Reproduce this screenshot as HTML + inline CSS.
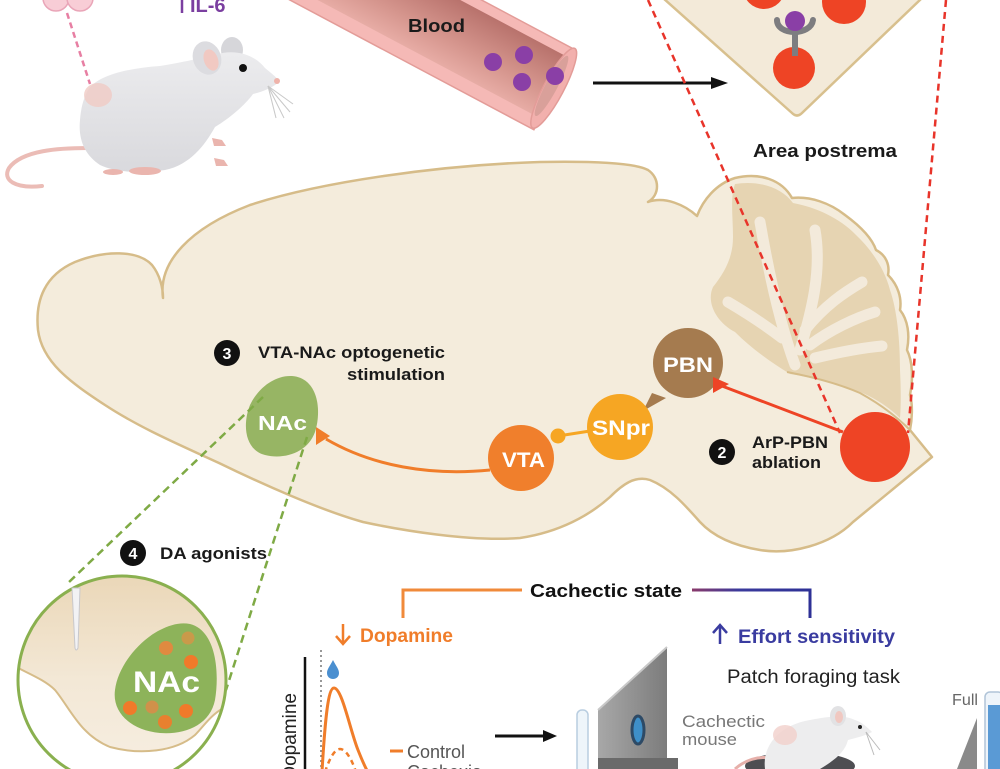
<!DOCTYPE html>
<html>
<head>
<meta charset="utf-8">
<style>
  html,body{margin:0;padding:0;background:#fff;}
  svg{display:block;}
  text{font-family:"Liberation Sans",Arial,sans-serif;}
</style>
</head>
<body>
<svg width="1000" height="769" viewBox="0 0 1000 769" xmlns="http://www.w3.org/2000/svg">
  <defs>
    <linearGradient id="lumen" x1="0" y1="0" x2="0" y2="1">
      <stop offset="0" stop-color="#b8726c"/>
      <stop offset="0.6" stop-color="#d5958d"/>
      <stop offset="1" stop-color="#e7aca5"/>
    </linearGradient>
    <linearGradient id="mbody" x1="0" y1="0" x2="0" y2="1">
      <stop offset="0" stop-color="#ececee"/>
      <stop offset="1" stop-color="#d9d9dd"/>
    </linearGradient>
    <linearGradient id="circ" x1="0" y1="0" x2="0" y2="1">
      <stop offset="0" stop-color="#ead6b6"/>
      <stop offset="0.5" stop-color="#f3e8d6"/>
      <stop offset="1" stop-color="#f7efe3"/>
    </linearGradient>
    <linearGradient id="blueline" x1="0" y1="0" x2="1" y2="0">
      <stop offset="0" stop-color="#8a3a6a"/>
      <stop offset="0.4" stop-color="#3a3a9c"/>
      <stop offset="1" stop-color="#2e3196"/>
    </linearGradient>
    <linearGradient id="panel" x1="0" y1="0" x2="1" y2="0">
      <stop offset="0" stop-color="#a8a8a8"/>
      <stop offset="1" stop-color="#7c7c7c"/>
    </linearGradient>
    <clipPath id="cc"><circle cx="122" cy="680" r="104"/></clipPath>
  </defs>

  <!-- ===== TOP LEFT: fat tissue + mouse ===== -->
  <circle cx="56" cy="-2" r="13" fill="#f8cdd6" stroke="#e9a5b8" stroke-width="1.5"/>
  <circle cx="80" cy="-2" r="13" fill="#f8cdd6" stroke="#e9a5b8" stroke-width="1.5"/>
  <line x1="67" y1="13" x2="90" y2="84" stroke="#e77fa3" stroke-width="2.5" stroke-dasharray="6 4"/>
  <line x1="182" y1="0" x2="182" y2="13" stroke="#7b3fa0" stroke-width="2.5"/>
  <text x="190" y="12" font-size="20" font-weight="bold" fill="#7b3fa0">IL-6</text>

  <!-- tail -->
  <path d="M88,148 C60,148 22,150 9,168 C2,180 15,189 42,186" fill="none" stroke="#ebbcb6" stroke-width="4" stroke-linecap="round"/>
  <!-- back ear -->
  <ellipse cx="232" cy="50" rx="11" ry="13" fill="#d6d6da"/>
  <!-- body -->
  <path d="M87,92 C95,75 130,68 160,66 C185,62 200,58 215,55 C235,48 255,55 265,68 C272,74 278,78 279,82 C272,88 262,92 253,94 C245,105 230,118 215,127 C205,145 190,165 165,170 C140,174 115,172 100,165 C85,155 78,140 80,120 C81,108 83,100 87,92 Z" fill="url(#mbody)"/>
  <ellipse cx="98" cy="95" rx="14" ry="12" fill="#f0cbc4" opacity="0.8"/>
  <!-- front ear -->
  <ellipse cx="207" cy="58" rx="14" ry="17" transform="rotate(-20 207 58)" fill="#dcdce0"/>
  <ellipse cx="211" cy="60" rx="7" ry="11" transform="rotate(-20 211 60)" fill="#f1c9c2"/>
  <circle cx="243" cy="68" r="4" fill="#111"/>
  <circle cx="277" cy="81" r="3" fill="#efb3aa"/>
  <g stroke="#c8c8c8" stroke-width="1">
    <line x1="268" y1="86" x2="293" y2="104"/>
    <line x1="268" y1="86" x2="290" y2="112"/>
    <line x1="268" y1="86" x2="284" y2="118"/>
    <line x1="268" y1="86" x2="276" y2="118"/>
  </g>
  <g fill="#eab5ae">
    <path d="M212,138 L222,140 L226,146 L214,146 Z"/>
    <path d="M214,158 L224,160 L228,166 L216,166 Z"/>
    <ellipse cx="145" cy="171" rx="16" ry="4"/>
    <ellipse cx="113" cy="172" rx="10" ry="3"/>
  </g>

  <!-- ===== Blood vessel ===== -->
  <g transform="translate(555,90) rotate(28)">
    <rect x="-340" y="-45" width="340" height="90" fill="#f5b9b6" stroke="#e39c98" stroke-width="1.5"/>
    <rect x="-340" y="-35" width="335" height="67" fill="url(#lumen)"/>
    <ellipse cx="-2" cy="-1" rx="10" ry="45" fill="#f2b0ad" stroke="#e39c98" stroke-width="1.5"/>
    <ellipse cx="-5" cy="-2" rx="6" ry="34" fill="#d9a09a"/>
  </g>
  <text x="408" y="32" font-size="18" font-weight="bold" fill="#1a1a1a" textLength="57" lengthAdjust="spacingAndGlyphs">Blood</text>
  <g fill="#8a3fa6">
    <circle cx="493" cy="62" r="9"/>
    <circle cx="524" cy="55" r="9"/>
    <circle cx="522" cy="82" r="9"/>
    <circle cx="555" cy="76" r="9"/>
  </g>
  <!-- arrow -->
  <line x1="593" y1="83" x2="716" y2="83" stroke="#111" stroke-width="3"/>
  <polygon points="728,83 711,77 711,89" fill="#111"/>

  <!-- ===== Area postrema diamond ===== -->
  <path d="M663,-2 L792,113 Q797,118 802,113 L922,-2 Z" fill="#f3ead9" stroke="#d8c08e" stroke-width="2.5"/>
  <circle cx="764" cy="-12" r="21" fill="#ee4425"/>
  <circle cx="844" cy="2" r="22" fill="#ee4425"/>
  <circle cx="794" cy="68" r="21" fill="#ee4425"/>
  <path d="M777,20 C777,36 811,36 813,20" fill="none" stroke="#7d7d80" stroke-width="6" stroke-linecap="round"/>
  <line x1="795" y1="32" x2="795" y2="56" stroke="#7d7d80" stroke-width="6"/>
  <circle cx="795" cy="21" r="10" fill="#8a3fa6"/>
  <text x="753" y="157" font-size="18" font-weight="bold" fill="#1a1a1a" textLength="144" lengthAdjust="spacingAndGlyphs">Area postrema</text>

  <!-- ===== Brain ===== -->
  <path d="M163,298 C158,262 190,228 250,205 C320,182 440,165 540,162 C595,161 635,163 648,170 C660,178 660,195 648,202 C665,196 685,205 697,216 C703,200 716,184 735,178 C760,172 782,180 792,198 C810,196 830,203 845,215 C860,226 872,238 876,250 C886,255 890,265 888,275 C898,285 902,298 900,310 C908,320 910,335 907,350 C913,362 913,380 910,395 C913,405 912,420 910,430 L932,457 L853,522 C830,545 790,555 760,550 C730,545 712,535 700,522 C685,505 670,488 650,480 C635,475 622,485 610,497 C590,515 560,532 520,538 C470,542 400,530 363,522 C320,510 260,483 219,463 C180,445 140,428 105,405 C70,382 42,362 38,330 C35,300 45,275 75,262 C105,250 138,250 152,265 C160,275 163,288 163,298 Z" fill="#f4ecdc" stroke="#d6bc89" stroke-width="2.5" stroke-linejoin="round"/>

  <!-- cerebellum folia -->
  <path d="M735,184 C760,180 782,188 793,203 C815,207 840,218 856,235 C872,250 885,270 890,290 C897,310 900,340 900,370 C901,390 901,405 900,418 C890,408 875,398 860,392 C840,384 815,378 790,374 C770,362 750,347 735,332 C716,322 706,302 713,287 C725,272 733,257 733,237 C733,217 730,198 735,184 Z" fill="#e6d4b2"/>
  <g stroke="#f3eadb" stroke-width="11" stroke-linecap="round" fill="none">
    <path d="M795,365 C782,330 770,280 760,222"/>
    <path d="M782,338 C765,325 745,312 728,302"/>
    <path d="M800,350 C812,310 822,270 815,230"/>
    <path d="M805,330 C825,305 845,292 862,282"/>
    <path d="M810,345 C830,330 855,318 875,312"/>
    <path d="M815,358 C840,352 860,348 882,346"/>
  </g>
  <path d="M787,372 C813,377 837,383 860,393 C880,404 898,418 910,430" fill="none" stroke="#d6bc89" stroke-width="2"/>

  <!-- red dashed lines -->
  <g stroke="#e8342a" stroke-width="2.5" stroke-dasharray="7 5" fill="none">
    <line x1="648" y1="0" x2="840" y2="433"/>
    <line x1="946" y1="0" x2="908" y2="433"/>
  </g>

  <!-- circuit -->
  <path d="M490,470 C430,476 372,466 326,439" fill="none" stroke="#f07d2a" stroke-width="3"/>
  <polygon points="316,427 330,436 316,445" fill="#f07d2a"/>
  <path d="M292,376 C318,378 322,410 315,432 C308,452 285,460 265,455 C245,450 242,425 250,405 C258,388 275,375 292,376 Z" fill="#97b564"/>
  <text x="258" y="430" font-size="20" font-weight="bold" fill="#fff" textLength="49" lengthAdjust="spacingAndGlyphs">NAc</text>

  <circle cx="521" cy="458" r="33" fill="#f07f2c"/>
  <text x="502" y="467" font-size="21" font-weight="bold" fill="#fff" textLength="43" lengthAdjust="spacingAndGlyphs">VTA</text>

  <line x1="558" y1="436" x2="590" y2="431" stroke="#f6a623" stroke-width="3"/>
  <circle cx="558" cy="436" r="7.5" fill="#f6a623"/>

  <circle cx="688" cy="363" r="35" fill="#a57b4f"/>
  <polygon points="643,411 652,393 666,398" fill="#a57b4f"/>
  <circle cx="620" cy="427" r="33" fill="#f6a623"/>
  <text x="592" y="435" font-size="21" font-weight="bold" fill="#fff" textLength="58" lengthAdjust="spacingAndGlyphs">SNpr</text>
  <text x="663" y="372" font-size="21" font-weight="bold" fill="#fff" textLength="50" lengthAdjust="spacingAndGlyphs">PBN</text>

  <line x1="843" y1="432" x2="722" y2="386" stroke="#ee4425" stroke-width="3"/>
  <polygon points="713,377 729,384 713,393" fill="#ee4425"/>
  <circle cx="875" cy="447" r="35" fill="#ee4425"/>

  <circle cx="722" cy="452" r="13" fill="#111"/>
  <text x="722" y="458" font-size="16" font-weight="bold" fill="#fff" text-anchor="middle">2</text>
  <text x="752" y="448" font-size="17" font-weight="bold" fill="#1a1a1a" textLength="76" lengthAdjust="spacingAndGlyphs">ArP-PBN</text>
  <text x="752" y="468" font-size="17" font-weight="bold" fill="#1a1a1a" textLength="69" lengthAdjust="spacingAndGlyphs">ablation</text>

  <circle cx="227" cy="353" r="13" fill="#111"/>
  <text x="227" y="359" font-size="16" font-weight="bold" fill="#fff" text-anchor="middle">3</text>
  <text x="258" y="358" font-size="17" font-weight="bold" fill="#1a1a1a" textLength="187" lengthAdjust="spacingAndGlyphs">VTA-NAc optogenetic</text>
  <text x="347" y="380" font-size="17" font-weight="bold" fill="#1a1a1a" textLength="98" lengthAdjust="spacingAndGlyphs">stimulation</text>

  <!-- green dashed lines -->
  <g stroke="#7faa45" stroke-width="2.5" stroke-dasharray="8 5" fill="none">
    <line x1="263" y1="397" x2="68" y2="583"/>
    <line x1="307" y1="437" x2="226" y2="690"/>
  </g>

  <!-- ===== Bottom-left zoom circle ===== -->
  <g clip-path="url(#cc)">
    <rect x="0" y="570" width="240" height="220" fill="url(#circ)"/>
    <path d="M0,655 C10,668 40,675 55,690 C70,708 80,735 110,747 C140,755 175,752 195,735 C205,725 212,712 230,705 L240,705 L240,800 L0,800 Z" fill="#ffffff"/>
    <path d="M0,655 C10,668 40,675 55,690 C70,708 80,735 110,747 C140,755 175,752 195,735 C205,725 212,712 230,705" fill="none" stroke="#d6bc89" stroke-width="2"/>
  </g>
  <circle cx="122" cy="680" r="104" fill="none" stroke="#8ab04f" stroke-width="3"/>
  <path d="M72,588 L80,588 L78,648 Q76,652 75,648 Z" fill="#f2f2f4" stroke="#c8c8cc" stroke-width="1"/>
  <path d="M190,624 C215,630 220,670 215,700 C210,725 185,735 160,733 C130,730 112,712 115,690 C118,665 140,640 160,630 C170,625 180,622 190,624 Z" fill="#8db35a"/>
  <g fill="#f07a2a">
    <circle cx="166" cy="648" r="7" fill="#e08a40"/>
    <circle cx="188" cy="638" r="6.5" fill="#c99a4a"/>
    <circle cx="191" cy="662" r="7"/>
    <circle cx="130" cy="708" r="7"/>
    <circle cx="152" cy="707" r="6.5" fill="#d0914a"/>
    <circle cx="186" cy="711" r="7"/>
    <circle cx="165" cy="722" r="7" fill="#e8802f"/>
  </g>
  <text x="133" y="692" font-size="30" font-weight="bold" fill="#fff" textLength="67" lengthAdjust="spacingAndGlyphs">NAc</text>

  <circle cx="133" cy="553" r="13" fill="#111"/>
  <text x="133" y="559" font-size="16" font-weight="bold" fill="#fff" text-anchor="middle">4</text>
  <text x="160" y="559" font-size="17" font-weight="bold" fill="#1a1a1a" textLength="107" lengthAdjust="spacingAndGlyphs">DA agonists</text>

  <!-- ===== Cachectic state bracket ===== -->
  <polyline points="403,618 403,590 522,590" fill="none" stroke="#f08a3a" stroke-width="3"/>
  <text x="530" y="597" font-size="18" font-weight="bold" fill="#111" textLength="152" lengthAdjust="spacingAndGlyphs">Cachectic state</text>
  <path d="M692,590 L810,590 L810,618" fill="none" stroke="url(#blueline)" stroke-width="3"/>

  <line x1="343" y1="624" x2="343" y2="643" stroke="#f07d2a" stroke-width="2.5"/>
  <polyline points="336,636 343,644 350,636" fill="none" stroke="#f07d2a" stroke-width="2.5"/>
  <text x="360" y="642" font-size="19" font-weight="bold" fill="#f07d2a" textLength="93" lengthAdjust="spacingAndGlyphs">Dopamine</text>

  <line x1="720" y1="626" x2="720" y2="644" stroke="#3a3ca0" stroke-width="2.5"/>
  <polyline points="713,633 720,625 727,633" fill="none" stroke="#3a3ca0" stroke-width="2.5"/>
  <text x="738" y="643" font-size="19" font-weight="bold" fill="#3a3ca0" textLength="157" lengthAdjust="spacingAndGlyphs">Effort sensitivity</text>

  <text x="727" y="683" font-size="19" fill="#222" textLength="173" lengthAdjust="spacingAndGlyphs">Patch foraging task</text>

  <!-- ===== Graph ===== -->
  <line x1="305" y1="657" x2="305" y2="769" stroke="#111" stroke-width="2.5"/>
  <text transform="translate(296,693) rotate(-90)" text-anchor="end" font-size="19" fill="#222">Dopamine</text>
  <line x1="321" y1="650" x2="321" y2="769" stroke="#777" stroke-width="1.5" stroke-dasharray="2 3"/>
  <path d="M333,660 C336,666 339,669 339,673 C339,677 336,679 333,679 C330,679 327,677 327,673 C327,669 330,666 333,660 Z" fill="#4a8fd0"/>
  <path d="M322,772 C325,720 328,688 334,688 C342,688 350,730 358,750 C362,760 366,769 368,772" fill="none" stroke="#f07d2a" stroke-width="3"/>
  <path d="M325,772 C330,757 335,749 340,749 C346,749 352,760 356,772" fill="none" stroke="#f07d2a" stroke-width="2.5" stroke-dasharray="5 4"/>
  <line x1="390" y1="751" x2="403" y2="751" stroke="#f07d2a" stroke-width="3"/>
  <text x="407" y="758" font-size="18" fill="#555" textLength="58" lengthAdjust="spacingAndGlyphs">Control</text>
  <text x="407" y="778" font-size="18" fill="#555">Cachexia</text>

  <line x1="495" y1="736" x2="546" y2="736" stroke="#111" stroke-width="3"/>
  <polygon points="557,736 543,730 543,742" fill="#111"/>

  <!-- ===== Bottom right task ===== -->
  <rect x="577" y="710" width="11" height="65" rx="5" fill="#eef5fa" stroke="#b8cde0" stroke-width="1.5"/>
  <polygon points="598,710 667,647 667,769 598,769" fill="url(#panel)"/>
  <line x1="598" y1="710" x2="667" y2="647" stroke="#c8c8c8" stroke-width="2"/>
  <ellipse cx="638" cy="730" rx="6" ry="14" fill="#3e8fc8" stroke="#2d4a66" stroke-width="3"/>
  <rect x="598" y="758" width="80" height="11" fill="#6a6a6a"/>

  <text x="682" y="727" font-size="17" fill="#777" textLength="83" lengthAdjust="spacingAndGlyphs">Cachectic</text>
  <text x="682" y="745" font-size="17" fill="#777" textLength="55" lengthAdjust="spacingAndGlyphs">mouse</text>

  <ellipse cx="800" cy="766" rx="55" ry="14" fill="#4e4e52"/>
  <path d="M735,769 C745,760 758,756 770,758" fill="none" stroke="#e6b0aa" stroke-width="3"/>
  <path d="M765,769 C762,745 780,725 810,720 C830,716 845,715 855,720 C862,722 868,728 872,732 C865,736 855,738 848,740 C845,752 835,760 820,769 Z" fill="#ededee"/>
  <ellipse cx="785" cy="735" rx="12" ry="10" fill="#f1d0ca" opacity="0.8"/>
  <ellipse cx="838" cy="716" rx="8" ry="10" fill="#e2e2e4"/>
  <ellipse cx="839" cy="717" rx="4" ry="6" fill="#f0c8c1"/>
  <circle cx="860" cy="727" r="2" fill="#222"/>
  <g stroke="#bbb" stroke-width="1">
    <line x1="866" y1="732" x2="880" y2="750"/>
    <line x1="866" y1="732" x2="874" y2="755"/>
  </g>

  <text x="952" y="705" font-size="16" fill="#666" textLength="26" lengthAdjust="spacingAndGlyphs">Full</text>
  <polygon points="957,769 977,718 977,769" fill="#8a8a8a"/>
  <rect x="985" y="692" width="18" height="85" rx="5" fill="#eef4fa" stroke="#b0c4d8" stroke-width="1.5"/>
  <rect x="988" y="705" width="14" height="70" fill="#5a9ad5"/>
</svg>
</body>
</html>
